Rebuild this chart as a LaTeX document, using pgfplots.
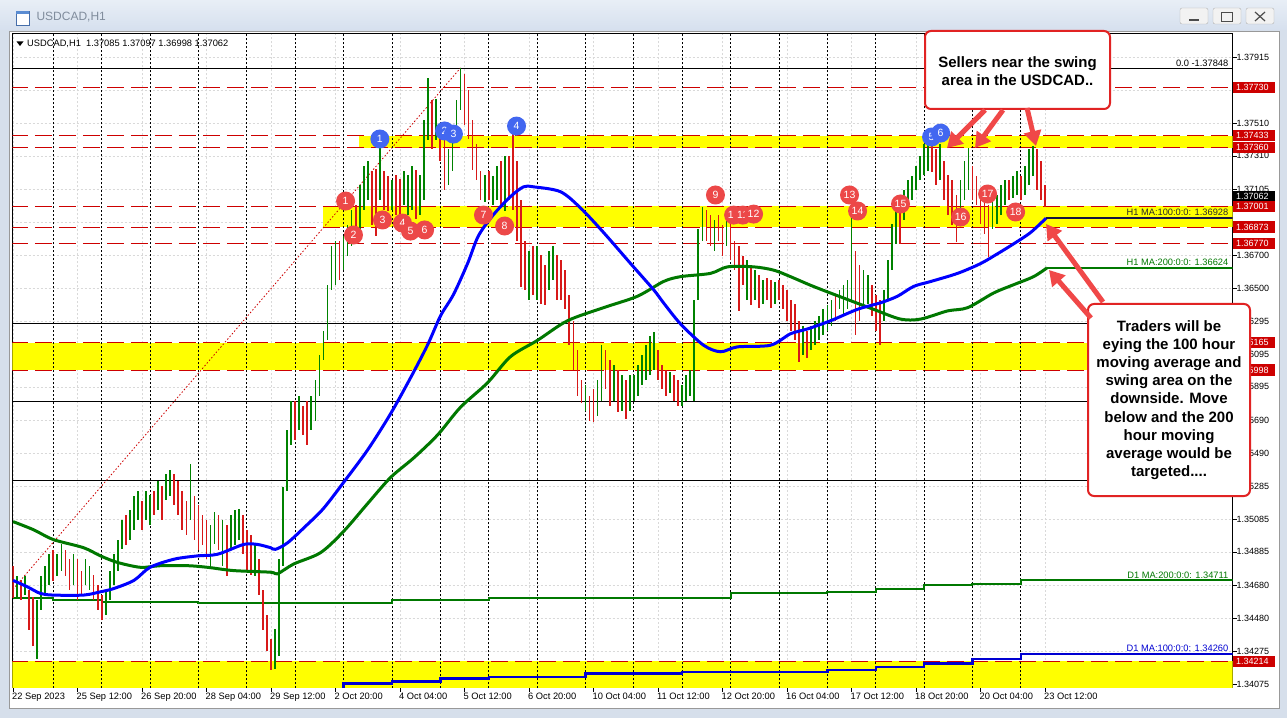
\documentclass[border=0pt]{standalone}
\usepackage{pgfplots}
\pgfplotsset{compat=1.18}
\usepackage{pgfplotstable}
\usepackage{fontspec}
\setmainfont{Liberation Sans}
\usetikzlibrary{arrows.meta}

\definecolor{winframe}{RGB}{214,223,235}
\definecolor{tbtop}{RGB}{232,238,246}
\definecolor{tbbot}{RGB}{214,224,238}
\definecolor{titlegray}{RGB}{128,140,156}
\definecolor{upc}{RGB}{0,130,0}
\definecolor{dnc}{RGB}{215,25,25}
\definecolor{lvl}{RGB}{205,0,0}
\definecolor{mkred}{RGB}{236,72,72}
\definecolor{mkblue}{RGB}{66,103,240}
\definecolor{maone}{RGB}{0,0,255}
\definecolor{matwo}{RGB}{0,120,0}
\definecolor{arrowred}{RGB}{240,72,72}
\definecolor{boxred}{RGB}{225,35,35}
\definecolor{yel}{RGB}{255,255,0}
\definecolor{icond}{RGB}{70,110,170}
\definecolor{iconl}{RGB}{90,140,210}
\definecolor{navy}{RGB}{20,20,60}
\definecolor{dgray}{RGB}{40,40,40}
\definecolor{donec}{RGB}{0,0,210}

\pgfplotstableread{
x h l c
0 1.3480 1.3460 0
2 1.3474 1.3461 1
4 1.3471 1.3459 0
6 1.3474 1.3462 1
8 1.3465 1.3441 0
10 1.3461 1.3431 0
12 1.3459 1.3423 1
14 1.3474 1.3453 1
16 1.3480 1.3462 1
18 1.3487 1.3468 1
20 1.3490 1.3471 0
22 1.3487 1.3474 1
24 1.3493 1.3477 1
26 1.3490 1.3474 0
28 1.3484 1.3465 0
30 1.3487 1.3468 1
32 1.3484 1.3459 0
34 1.3477 1.3462 0
36 1.3484 1.3468 1
38 1.3480 1.3465 1
40 1.3474 1.3459 0
42 1.3468 1.3453 0
44 1.3462 1.3447 0
46 1.3465 1.3450 1
48 1.3477 1.3459 1
50 1.3487 1.3468 1
52 1.3496 1.3477 1
54 1.3508 1.3490 1
56 1.3511 1.3493 0
58 1.3514 1.3496 1
60 1.3523 1.3502 1
62 1.3526 1.3508 1
64 1.3520 1.3502 0
66 1.3526 1.3508 1
68 1.3523 1.3505 1
70 1.3526 1.3511 0
72 1.3532 1.3514 1
74 1.3529 1.3508 0
76 1.3536 1.3520 1
78 1.3539 1.3523 1
80 1.3536 1.3517 0
82 1.3532 1.3511 0
84 1.3526 1.3502 0
86 1.3520 1.3499 0
88 1.3542 1.3508 1
90 1.3523 1.3496 0
92 1.3517 1.3490 0
94 1.3511 1.3493 0
96 1.3508 1.3484 0
98 1.3505 1.3480 1
100 1.3513 1.3493 1
102 1.3511 1.3490 0
104 1.3508 1.3480 1
106 1.3505 1.3474 0
108 1.3511 1.3490 1
110 1.3514 1.3493 1
112 1.3515 1.3496 1
114 1.3511 1.3487 0
116 1.3502 1.3477 0
118 1.3499 1.3474 0
120 1.3493 1.3474 1
122 1.3484 1.3462 0
124 1.3465 1.3441 0
126 1.3450 1.3428 0
128 1.3435 1.3416 0
130 1.3441 1.3417 1
132 1.3484 1.3425 1
134 1.3528 1.3480 1
136 1.3563 1.3526 1
138 1.3581 1.3554 1
140 1.3581 1.3557 0
142 1.3584 1.3563 1
144 1.3578 1.3560 0
146 1.3581 1.3554 0
148 1.3584 1.3563 1
150 1.3594 1.3569 1
152 1.3609 1.3584 1
154 1.3624 1.3606 1
156 1.3652 1.3618 1
158 1.3676 1.3649 1
160 1.3679 1.3652 1
162 1.3679 1.3655 0
164 1.3682 1.3661 1
166 1.3689 1.3670 1
168 1.3698 1.3676 1
170 1.3701 1.3679 0
172 1.3713 1.3686 1
174 1.3725 1.3698 1
176 1.3728 1.3704 1
178 1.3722 1.3689 0
180 1.3723 1.3682 0
182 1.3742 1.3704 1
184 1.3722 1.3698 0
186 1.3719 1.3697 0
188 1.3716 1.3698 1
190 1.3719 1.3695 0
192 1.3717 1.3692 0
194 1.3722 1.3701 1
196 1.3719 1.3695 1
198 1.3725 1.3698 1
200 1.3722 1.3692 0
202 1.3719 1.3695 1
204 1.3753 1.3704 1
206 1.3779 1.3741 1
208 1.3765 1.3735 0
210 1.3766 1.3741 1
212 1.3750 1.3728 0
214 1.3744 1.3710 0
216 1.3735 1.3713 1
218 1.3747 1.3722 1
220 1.3765 1.3741 1
222 1.3785 1.3759 1
224 1.3781 1.3750 0
226 1.3771 1.3741 0
228 1.3753 1.3722 0
230 1.3738 1.3716 0
232 1.3722 1.3704 0
234 1.3719 1.3703 1
236 1.3722 1.3704 0
238 1.3719 1.3701 1
240 1.3725 1.3704 1
242 1.3728 1.3701 0
244 1.3731 1.3697 1
246 1.3731 1.3704 0
248 1.3749 1.3698 0
250 1.3728 1.3679 0
252 1.3704 1.3651 0
254 1.3679 1.3649 0
256 1.3673 1.3643 1
258 1.3676 1.3646 0
260 1.3676 1.3643 1
262 1.3670 1.3640 0
264 1.3664 1.3640 0
266 1.3673 1.3649 1
268 1.3676 1.3655 1
270 1.3670 1.3643 0
272 1.3667 1.3643 0
274 1.3661 1.3637 0
276 1.3646 1.3615 0
278 1.3630 1.3600 0
280 1.3612 1.3584 0
282 1.3594 1.3580 0
284 1.3591 1.3575 1
286 1.3584 1.3569 0
288 1.3588 1.3568 0
290 1.3594 1.3572 1
292 1.3615 1.3581 1
294 1.3612 1.3588 0
296 1.3606 1.3578 0
298 1.3603 1.3581 1
300 1.3600 1.3574 0
302 1.3597 1.3575 1
304 1.3594 1.3570 0
306 1.3597 1.3575 1
308 1.3597 1.3581 1
310 1.3603 1.3584 1
312 1.3609 1.3591 1
314 1.3615 1.3594 1
316 1.3621 1.3597 1
318 1.3623 1.3600 1
320 1.3612 1.3594 0
322 1.3603 1.3588 0
324 1.3600 1.3584 0
326 1.3599 1.3586 1
328 1.3597 1.3581 0
330 1.3594 1.3578 0
332 1.3591 1.3578 1
334 1.3597 1.3581 1
336 1.3600 1.3584 1
338 1.3643 1.3581 1
340 1.3686 1.3643 1
342 1.3700 1.3679 1
344 1.3698 1.3679 0
346 1.3695 1.3676 0
348 1.3692 1.3673 1
350 1.3695 1.3679 0
352 1.3689 1.3670 0
354 1.3692 1.3676 1
356 1.3689 1.3667 0
358 1.3679 1.3661 0
360 1.3676 1.3636 0
362 1.3670 1.3652 0
364 1.3667 1.3643 1
366 1.3664 1.3640 0
368 1.3661 1.3643 1
370 1.3658 1.3638 0
372 1.3655 1.3640 1
374 1.3656 1.3643 0
376 1.3655 1.3638 0
378 1.3654 1.3640 1
380 1.3655 1.3643 0
382 1.3652 1.3637 0
384 1.3649 1.3630 0
386 1.3643 1.3624 0
388 1.3640 1.3618 0
390 1.3630 1.3605 0
392 1.3627 1.3609 1
394 1.3624 1.3607 0
396 1.3627 1.3612 1
398 1.3630 1.3615 1
400 1.3633 1.3618 1
402 1.3637 1.3621 1
404 1.3640 1.3624 1
406 1.3643 1.3627 1
408 1.3646 1.3630 0
410 1.3649 1.3637 1
412 1.3652 1.3633 1
414 1.3655 1.3637 1
416 1.3697 1.3643 1
418 1.3673 1.3621 0
420 1.3664 1.3630 0
422 1.3661 1.3640 1
424 1.3658 1.3640 1
426 1.3652 1.3633 0
428 1.3646 1.3624 0
430 1.3643 1.3615 0
432 1.3649 1.3630 1
434 1.3667 1.3643 1
436 1.3689 1.3661 1
438 1.3701 1.3677 1
440 1.3701 1.3677 0
442 1.3710 1.3692 1
444 1.3716 1.3701 1
446 1.3719 1.3704 1
448 1.3725 1.3710 1
450 1.3731 1.3716 1
452 1.3738 1.3719 1
454 1.3741 1.3722 1
456 1.3741 1.3721 0
458 1.3735 1.3713 0
460 1.3738 1.3716 1
462 1.3728 1.3704 0
464 1.3719 1.3695 0
466 1.3716 1.3689 0
468 1.3707 1.3678 0
470 1.3716 1.3689 1
472 1.3728 1.3704 1
474 1.3736 1.3710 1
476 1.3725 1.3704 0
478 1.3719 1.3701 0
480 1.3710 1.3689 0
482 1.3704 1.3683 0
484 1.3701 1.3669 0
486 1.3704 1.3686 1
488 1.3707 1.3689 1
490 1.3713 1.3695 1
492 1.3716 1.3701 1
494 1.3716 1.3704 0
496 1.3719 1.3705 1
498 1.3722 1.3707 1
500 1.3719 1.3704 0
502 1.3725 1.3707 1
504 1.3735 1.3713 1
506 1.3737 1.3719 1
508 1.3735 1.3710 0
510 1.3728 1.3704 0
512 1.3713 1.3700 0
}\bars

\tikzset{
  rm/.style={circle, fill=mkred, text=white, inner sep=0pt, minimum size=19pt, font=\fontsize{10.5}{11}\selectfont},
  bm/.style={circle, fill=mkblue, text=white, inner sep=0pt, minimum size=19pt, font=\fontsize{10.5}{11}\selectfont},
  lab/.style={anchor=south east, inner sep=1pt, font=\fontsize{9.3}{10}\selectfont},
}
\newcommand{\pbox}[3]{%
  \fill[#3] (1233,718-#1-5.6) rectangle (1275,718-#1+5.6);
  \node[text=white, font=\fontsize{9}{10}\selectfont, anchor=west, inner sep=0pt] at (1236,718-#1) {#2};}

\begin{document}
\begin{tikzpicture}[x=1pt,y=1pt]
\useasboundingbox (0,0) rectangle (1287,718);
\fill[winframe] (0,0) rectangle (1287,718);
\shade[top color=tbtop, bottom color=tbbot] (0,718) rectangle (1287,688);
\fill[white] (9,10) rectangle (1279,687);
\draw[gray!80, line width=0.8pt] (9,10) rectangle (1279,687);
% title bar
\fill[white] (16,693) rectangle (29,707);
\draw[icond] (16,693) rectangle (29,707);
\fill[iconl] (16,704) rectangle (29,707);
\node[anchor=west, text=titlegray, font=\fontsize{12}{14}\selectfont] at (33,701) {USDCAD,H1};
\foreach \bx in {1180,1213,1246}{
  \draw[gray!60, fill=white!90!gray, rounded corners=2pt] (\bx,694) rectangle ++(28,16);
}
\draw[gray!60!black, line width=1.2pt] (1189,698) -- (1199,698);
\draw[gray!60!black, line width=0.8pt] (1221,697) rectangle (1232,706);
\draw[gray!60!black, line width=1.2pt] (1255,697) -- (1265,706) (1255,706) -- (1265,697);

\begin{axis}[
  at={(12.5pt,30.5pt)}, anchor=south west,
  scale only axis, width=1220pt, height=654pt,
  xmin=-0.25, xmax=605, ymin=1.34054, ymax=1.38059,
  axis line style={black, line width=0.8pt},
  xtick={0,32,64,96,128,160,192,224,256,288,320,352,384,416,448,480,512},
  xticklabels={22 Sep 2023,25 Sep 12:00,26 Sep 20:00,28 Sep 04:00,29 Sep 12:00,2 Oct 20:00,4 Oct 04:00,5 Oct 12:00,6 Oct 20:00,10 Oct 04:00,11 Oct 12:00,12 Oct 20:00,16 Oct 04:00,17 Oct 12:00,18 Oct 20:00,20 Oct 04:00,23 Oct 12:00},
  xticklabel style={anchor=north west, inner sep=0pt, xshift=-1pt, yshift=-1pt, font=\fontsize{9.3}{10}\selectfont},
  ytick={1.34075,1.34275,1.34480,1.34680,1.34885,1.35085,1.35285,1.35490,1.35690,1.35895,1.36095,1.36295,1.36500,1.36700,1.36905,1.37105,1.37310,1.37510,1.37710,1.37915},
  yticklabels={1.34075,1.34275,1.34480,1.34680,1.34885,1.35085,1.35285,1.35490,1.35690,1.35895,1.36095,1.36295,1.36500,1.36700,{},1.37105,1.37310,1.37510,{},1.37915},
  yticklabel style={anchor=west, inner sep=0pt, font=\fontsize{9}{10}\selectfont},
  xtick pos=left, ytick pos=right, yticklabel pos=right,
  tick align=outside, major tick length=4pt,
  tick style={black, line width=0.6pt},
  grid=major, grid style={gray!30, dash pattern=on 2pt off 2pt, line width=0.5pt},
  clip=true,
]
% yellow zones
\addplot[fill=yel, draw=none, forget plot] coordinates {(171.5,1.37433) (606,1.37433) (606,1.37360) (171.5,1.37360)};
\addplot[fill=yel, draw=none, forget plot] coordinates {(154,1.37001) (606,1.37001) (606,1.36873) (154,1.36873)};
\addplot[fill=yel, draw=none, forget plot] coordinates {(-1,1.36165) (606,1.36165) (606,1.35998) (-1,1.35998)};
\addplot[fill=yel, draw=none, forget plot] coordinates {(-1,1.34214) (606,1.34214) (606,1.3400) (-1,1.3400)};
% red dashed levels
\foreach \p in {1.37730,1.37433,1.37360,1.37001,1.36873,1.36770,1.36165,1.35998,1.34214}{
  \edef\tmp{\noexpand\addplot[lvl, line width=1pt, dash pattern=on 17pt off 7pt, forget plot] coordinates {(-1,\p) (606,\p)};}\tmp
}
% fibonacci levels
\foreach \p in {1.37848,1.36286,1.35808,1.35324}{
  \edef\tmp{\noexpand\addplot[black, line width=0.8pt, forget plot] coordinates {(-1,\p) (606,\p)};}\tmp
}
\addplot[lvl, line width=0.8pt, dash pattern=on 1.5pt off 2pt, forget plot] coordinates {(0,1.34656) (222,1.37848)};
% day separators
\foreach \d in {20,44,68,92,116,140,164,188,212,236,260,284,308,332,356,380,404,428,452,476,500}{
  \edef\tmp{\noexpand\addplot[black, line width=0.8pt, dash pattern=on 2pt off 2pt, forget plot] coordinates {(\d,1.3400) (\d,1.3810)};}\tmp
}
% D1 moving averages
\addplot[const plot, matwo, line width=2pt, forget plot] coordinates {(0,1.3460) (20,1.3459) (44,1.3458) (68,1.3458) (92,1.3457) (116,1.3457) (140,1.3457) (164,1.3457) (188,1.3459) (212,1.3459) (236,1.3460) (260,1.3460) (284,1.3460) (308,1.3460) (332,1.3460) (356,1.3463) (380,1.3463) (404,1.3464) (428,1.3466) (452,1.3468) (476,1.3469) (500,1.34711) (606,1.34711)};
\addplot[const plot, donec, line width=2.4pt, forget plot] coordinates {(140,1.3403) (164,1.34078) (188,1.3409) (212,1.3411) (236,1.3412) (260,1.3412) (284,1.3414) (308,1.3414) (332,1.3415) (356,1.3415) (380,1.3415) (404,1.3416) (428,1.3418) (452,1.3420) (476,1.3423) (500,1.34260) (606,1.34260)};
% price bars
\addplot[mark=none, draw=none, forget plot,
  error bars/.cd, y dir=both, y explicit, error mark=none,
  error bar style={draw=upc, line width=1.7pt}]
  table[x=x, y expr={(\thisrow{h}+\thisrow{l})/2}, y error expr={(\thisrow{h}-\thisrow{l})/2}, restrict expr to domain={\thisrow{c}}{0.5:1.5}] {\bars};
\addplot[mark=none, draw=none, forget plot,
  error bars/.cd, y dir=both, y explicit, error mark=none,
  error bar style={draw=dnc, line width=1.7pt}]
  table[x=x, y expr={(\thisrow{h}+\thisrow{l})/2}, y error expr={(\thisrow{h}-\thisrow{l})/2}, restrict expr to domain={\thisrow{c}}{-0.5:0.5}] {\bars};
% H1 MA 200
\addplot[matwo, line width=3pt, smooth, forget plot] coordinates {(0,1.3507) (10.2,1.3502) (20,1.3496) (35,1.3491) (43.4,1.3486) (51.8,1.3482) (63.3,1.3479) (73.2,1.3480) (86.6,1.3480) (96.5,1.3479) (109.4,1.3477) (127.8,1.3476) (131.2,1.3475) (139.2,1.3481) (152.6,1.3488) (164,1.3501) (175.9,1.3518) (187.3,1.3534) (198.8,1.3546) (210.6,1.3560) (222,1.3577) (235.4,1.3592) (246.8,1.3608) (260.2,1.3618) (275.1,1.3630) (293,1.3638) (309.8,1.3645) (322.7,1.3654) (331.2,1.3657) (346,1.3659) (354.5,1.3663) (367.4,1.3663) (377.3,1.3661) (385.7,1.3657) (397.1,1.3651) (414,1.3643) (426.9,1.3637) (440.3,1.3631) (450.2,1.3631) (463.6,1.3636) (473.6,1.3638) (486.5,1.3647) (496.3,1.3652) (506.3,1.3657) (513,1.36624)};
\addplot[matwo, line width=2pt, forget plot] coordinates {(513,1.36624) (606,1.36624)};
% H1 MA 100
\addplot[maone, line width=3pt, smooth, forget plot] coordinates {(0,1.3471) (7.2,1.3467) (13.6,1.3463) (20,1.3462) (35,1.3462) (43.4,1.3464) (50,1.3466) (60,1.3471) (68,1.3479) (80,1.3484) (91.5,1.3486) (101.5,1.3487) (114.4,1.3493) (121.3,1.3493) (127.8,1.3491) (130.2,1.3490) (136.2,1.3494) (145,1.3504) (154,1.3515) (164,1.3531) (176,1.3551) (187.3,1.3573) (197.2,1.3595) (205.6,1.3615) (212.1,1.3633) (218.5,1.3646) (225.5,1.3665) (230.9,1.3682) (238.4,1.3695) (246.8,1.3706) (253.3,1.3712) (258.2,1.3712) (271.6,1.3709) (281.6,1.3699) (293,1.3684) (306.4,1.3665) (317.8,1.3649) (322.7,1.3641) (331.2,1.3628) (342.6,1.3615) (351,1.3611) (359.4,1.3614) (375.8,1.3615) (385.7,1.3622) (394.2,1.3625) (405.6,1.3630) (419,1.3637) (430.4,1.3641) (438.8,1.3645) (446.8,1.3651) (455.2,1.3654) (468.6,1.3659) (480,1.3665) (488.4,1.3671) (496.3,1.3677) (504.8,1.3684) (512.5,1.36928)};
\addplot[navy, line width=2pt, forget plot] coordinates {(512.5,1.36928) (606,1.36928)};
% level labels
\node[lab] at (axis cs:603.5,1.37848) {0.0 -1.37848};
\node[lab, text=dgray] at (axis cs:603.5,1.36935) {H1 MA:100:0:0: 1.36928};
\node[lab, text=matwo] at (axis cs:603.5,1.36630) {H1 MA:200:0:0: 1.36624};
\node[lab, text=matwo] at (axis cs:603.5,1.34716) {D1 MA:200:0:0: 1.34711};
\node[lab, text=donec] at (axis cs:603.5,1.34268) {D1 MA:100:0:0: 1.34260};
% swing markers
\node[bm] at (axis cs:182,1.37413) {1};
\node[bm] at (axis cs:214.1,1.37462) {2};
\node[bm] at (axis cs:218.5,1.37443) {3};
\node[bm] at (axis cs:249.8,1.37492) {4};
\node[bm] at (axis cs:455.7,1.37425) {5};
\node[bm] at (axis cs:460.2,1.37449) {6};
\node[rm] at (axis cs:165,1.37033) {1};
\node[rm] at (axis cs:168.9,1.36825) {2};
\node[rm] at (axis cs:183.3,1.36917) {3};
\node[rm] at (axis cs:193.2,1.36898) {4};
\node[rm] at (axis cs:197.2,1.36849) {5};
\node[rm] at (axis cs:204.2,1.36856) {6};
\node[rm] at (axis cs:233.4,1.36947) {7};
\node[rm] at (axis cs:243.9,1.36880) {8};
\node[rm] at (axis cs:348.5,1.37070) {9};
\node[rm] at (axis cs:357.5,1.36947) {10};
\node[rm] at (axis cs:362,1.36947) {11};
\node[rm] at (axis cs:367.4,1.36953) {12};
\node[rm] at (axis cs:415,1.37070) {13};
\node[rm] at (axis cs:419,1.36972) {14};
\node[rm] at (axis cs:440.3,1.37015) {15};
\node[rm] at (axis cs:470.1,1.36935) {16};
\node[rm] at (axis cs:483.5,1.37076) {17};
\node[rm] at (axis cs:497.4,1.36966) {18};
\end{axis}

% header text in chart
\fill (16.5,676.5) -- (23.5,676.5) -- (20,672) -- cycle;
\node[anchor=west, inner sep=0pt, font=\fontsize{9.3}{10}\selectfont] at (27,674) {USDCAD,H1\ \ 1.37085 1.37097 1.36998 1.37062};

% price boxes on the right axis
\pbox{87.2}{1.37730}{lvl}
\pbox{135.7}{1.37433}{lvl}
\pbox{147.6}{1.37360}{lvl}
\pbox{196.3}{1.37062}{black}
\pbox{206.2}{1.37001}{lvl}
\pbox{227.1}{1.36873}{lvl}
\pbox{243.9}{1.36770}{lvl}
\pbox{342.7}{1.36165}{lvl}
\pbox{370}{1.35998}{lvl}
\pbox{661.3}{1.34214}{lvl}

% callouts
\draw[boxred, line width=2pt, fill=white, rounded corners=6pt] (925,609) rectangle (1110,687);
\node[align=center, font=\bfseries\fontsize{15}{18}\selectfont] at (1017.5,647) {Sellers near the swing\\area in the USDCAD..};
\draw[arrowred, line width=5pt, -{Triangle[length=15pt,width=17pt]}] (985,608) -- (947,570);
\draw[arrowred, line width=5pt, -{Triangle[length=15pt,width=17pt]}] (1003,608) -- (975,570);
\draw[arrowred, line width=5pt, -{Triangle[length=15pt,width=17pt]}] (1027,610) -- (1036,572);

\draw[boxred, line width=2pt, fill=white, rounded corners=6pt] (1088,222) rectangle (1250,414);
\node[align=center, font=\bfseries\fontsize{15}{18.2}\selectfont] at (1169,318) {Traders will be\\eying the 100 hour\\moving average and\\swing area on the\\downside. Move\\below and the 200\\hour moving\\average would be\\targeted....};
\draw[arrowred, line width=5pt, -{Triangle[length=15pt,width=17pt]}] (1103,416) -- (1046,494);
\draw[arrowred, line width=5pt, -{Triangle[length=15pt,width=17pt]}] (1091,400) -- (1049,448);
\end{tikzpicture}
\end{document}
